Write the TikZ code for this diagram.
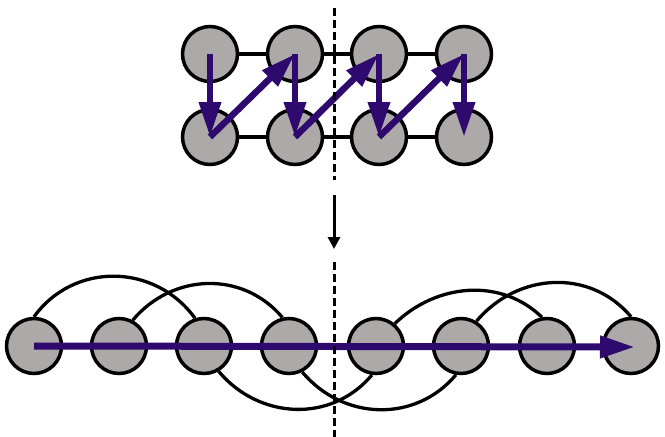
\documentclass[tikz,border=0pt]{standalone}
\usetikzlibrary{arrows.meta,backgrounds}
\definecolor{nodegray}{RGB}{173,169,169}
\definecolor{ppl}{RGB}{46,10,110}
\begin{document}
\begin{tikzpicture}[x=1pt,y=1pt,
  site/.style={circle,draw=black,fill=nodegray,line width=3.5pt,minimum size=55pt,inner sep=0pt},
  link/.style={line width=3.3pt,draw=black},
  flow/.style={line width=6.5pt,draw=ppl,-{Triangle[length=35pt,width=21pt]}},
  cut/.style={line width=3pt,draw=black,dash pattern=on 8pt off 4pt}]
\useasboundingbox (0,0) rectangle (665,-437);
% top grid
\node[site] (t1) at (210,-54) {};
\node[site] (t2) at (295,-54) {};
\node[site] (t3) at (379,-54) {};
\node[site] (t4) at (464,-54) {};
\node[site] (b1) at (210,-137) {};
\node[site] (b2) at (295,-137) {};
\node[site] (b3) at (379,-137) {};
\node[site] (b4) at (464,-137) {};
% bottom chain
\node[site] (c1) at (34,-346) {};
\node[site] (c2) at (119,-346) {};
\node[site] (c3) at (204,-346) {};
\node[site] (c4) at (289,-346) {};
\node[site] (c5) at (376,-346) {};
\node[site] (c6) at (461,-346) {};
\node[site] (c7) at (547,-346) {};
\node[site] (c8) at (631,-346) {};
\begin{pgfonlayer}{background}
  \draw[link] (t1) -- (t2) -- (t3) -- (t4);
  \draw[link] (b1) -- (b2) -- (b3) -- (b4);
  \draw[link] (c1.90) to[out=54,in=126,looseness=1.08] (c3.108);
  \draw[link] (c2.62) to[out=50,in=130,looseness=1.05] (c4.103);
  \draw[link] (c5.50) to[out=44,in=136] (c7.100);
  \draw[link] (c6.58) to[out=50,in=130,looseness=1.05] (c8.90);
  \draw[link] (c3.-60) to[out=-50,in=-130,looseness=1.05] (c5.-98);
  \draw[link] (c4.-63) to[out=-50,in=-130,looseness=1.05] (c6.-100);
\end{pgfonlayer}
% zigzag flow
\draw[flow] (t1.center) -- (b1.center);
\draw[flow] (b1.center) -- (t2.center);
\draw[flow] (t2.center) -- (b2.center);
\draw[flow] (b2.center) -- (t3.center);
\draw[flow] (t3.center) -- (b3.center);
\draw[flow] (b3.center) -- (t4.center);
\draw[flow] (t4.center) -- (b4.center);
% linear flow
\coordinate (fend) at (635,-347);
\draw[flow,line width=7pt] (c1.center) -- (fend);
% middle arrow
\coordinate (ma) at (334,-195);
\coordinate (mb) at (334,-249);
\draw[line width=3pt,-{Triangle[length=12pt,width=12pt]}] (ma) -- (mb);
% cut lines
\coordinate (d1) at (334.5,-8);
\coordinate (d2) at (334.5,-180);
\coordinate (d3) at (334.5,-262);
\coordinate (d4) at (334.5,-437);
\draw[cut] (d1) -- (d2);
\draw[cut] (d3) -- (d4);
\end{tikzpicture}
\end{document}
